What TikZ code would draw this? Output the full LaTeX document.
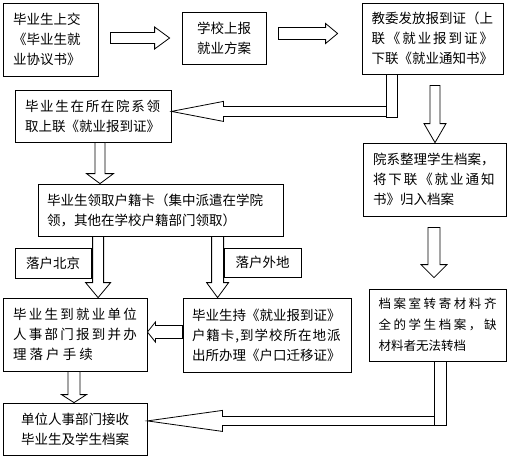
\documentclass[tikz,border=0pt]{standalone}
\usepackage{fontspec}
\newfontfamily\cjk{Noto Sans CJK SC}
\usetikzlibrary{calc}
\def\spr#1#2{\makebox[#1]{\sprA#2\relax}}
\def\sprA#1{\ifx\relax#1\else#1\expandafter\sprB\fi}
\def\sprB#1{\ifx\relax#1\else\hfill#1\expandafter\sprB\fi}
\newcommand\blockarrow[5]{%
  \coordinate (ba-t) at (#1);
  \coordinate (ba-h) at (#2);
  \coordinate (ba-b) at ($(ba-h)!#5!(ba-t)$);
  \draw[barrow] ($(ba-t)!#3!90:(ba-h)$) -- ($(ba-b)!#3!-90:(ba-t)$) -- ($(ba-b)!#4!-90:(ba-t)$) -- (ba-h) -- ($(ba-b)!#4!90:(ba-t)$) -- ($(ba-b)!#3!90:(ba-t)$) -- ($(ba-t)!#3!-90:(ba-h)$) -- cycle;}
\begin{document}
\begin{tikzpicture}[x=1pt,y=-1pt,
  box/.style={draw,line width=0.8pt,inner sep=0pt,font=\cjk\fontsize{13.5}{20}\selectfont},
  lbox/.style={box,align=left,text width=#1},
  cbox/.style={box,align=center},
  barrow/.style={draw,fill=white,line width=0.8pt,line join=miter}]
\useasboundingbox (0,0) rectangle (510,459);

\node[lbox=75pt,minimum width=95pt,minimum height=73pt] (b1) at (50.5,39.5) {毕业生上交\\《毕业生就\\业协议书》};
\node[cbox,minimum width=84pt,minimum height=52pt] (b2) at (224,38) {学校上报\\就业方案};
\node[lbox=122pt,minimum width=141pt,minimum height=71pt] (b3) at (432.5,38.5) {教委发放报到证（上\\\spr{121.5pt}{联《就业报到证》}\\下联《就业通知书》};
\node[lbox=136pt,minimum width=156pt,minimum height=52pt] (b4) at (93,116) {\spr{135pt}{毕业生在所在院系领}\\取上联《就业报到证》};
\node[lbox=227pt,minimum width=245pt,minimum height=52pt] (b5) at (160.5,210) {毕业生领取户籍卡（集中派遣在学院\\领，其他在学校户籍部门领取）};
\node[cbox,minimum width=76pt,minimum height=30pt] (l1) at (53,263) {落户北京};
\node[cbox,minimum width=77pt,minimum height=29pt] (l2) at (262.5,262.5) {落户外地};
\node[lbox=123pt,minimum width=143pt,minimum height=73pt] (b6) at (434.5,179.5) {院系整理学生档案，\\\spr{121.5pt}{将下联《就业通知}\\书》归入档案};
\node[lbox=124pt,minimum width=144pt,minimum height=73pt] (b7) at (75,334.5) {\spr{124pt}{毕业生到就业单位}\\\spr{124pt}{人事部门报到并办}\\\spr{80pt}{理落户手续}};
\node[lbox=150pt,minimum width=168pt,minimum height=74pt] (b8) at (267,335) {毕业生持《就业报到证》\\\spr{148.5pt}{户籍卡,到学校所在地派}\\出所办理《户口迁移证》};
\node[lbox=118pt,minimum width=137pt,minimum height=72pt,font=\cjk\fontsize{12.5}{21}\selectfont] (b9) at (437.5,325) {\spr{118pt}{档案室转寄材料齐}\\\spr{118pt}{全的学生档案，缺}\\材料者无法转档};
\node[cbox,minimum width=144pt,minimum height=52pt] (b10) at (75,429) {单位人事部门接收\\毕业生及学生档案};

% block arrows
\coordinate (a1t) at ($(b1.east |- b2.west)+(12,0)$);
\coordinate (a1h) at ($(b2.west)+(-12,0)$);
\blockarrow{a1t}{a1h}{5.5pt}{11pt}{15pt}

\coordinate (a2t) at ($(b2.east)+(12,-4.5)$);
\coordinate (a2h) at ($(a2t -| b3.west)+(-24,0)$);
\blockarrow{a2t}{a2h}{6pt}{10pt}{12pt}

\coordinate (lat) at ($(b3.south west)+(25,37)$);
\coordinate (lah) at (lat -| b4.east);
\blockarrow{lat}{lah}{5pt}{10pt}{52pt}
\draw[barrow] ($(b3.south west)+(25,0)$) rectangle ($(b3.south west)+(36,43)$);

\coordinate (a3t) at ($(b3.south)+(2.5,11)$);
\coordinate (a3h) at (a3t |- b6.north);
\blockarrow{a3t}{a3h}{5pt}{11pt}{19pt}

\coordinate (a4t) at ($(b4.south)+(7,0)$);
\coordinate (a4h) at (a4t |- b5.north);
\blockarrow{a4t}{a4h}{5pt}{13.5pt}{10pt}

\coordinate (a5t) at ($(b5.south west)+(60.5,0)$);
\coordinate (a5h) at (a5t |- b7.north);
\blockarrow{a5t}{a5h}{5.5pt}{12.5pt}{15pt}

\coordinate (a6t) at ($(b5.south west)+(180,0)$);
\coordinate (a6h) at (a6t |- b8.north);
\blockarrow{a6t}{a6h}{6pt}{11pt}{15pt}

\coordinate (a7t) at ($(b8.west)+(0,-3)$);
\coordinate (a7h) at (a7t -| b7.east);
\blockarrow{a7t}{a7h}{6.5pt}{10pt}{8pt}

\coordinate (a8t) at ($(b6.south)+(-0.5,11)$);
\coordinate (a8h) at ($(a8t |- b9.north)+(0,-11)$);
\blockarrow{a8t}{a8h}{6pt}{13pt}{13pt}

\coordinate (a9t) at ($(b7.south)+(-1,0)$);
\coordinate (a9h) at (a9t |- b10.north);
\blockarrow{a9t}{a9h}{6pt}{12.5pt}{8pt}

\coordinate (lbt) at ($(b9.south west)+(66,59.5)$);
\coordinate (lbh) at (lbt -| b10.east);
\blockarrow{lbt}{lbh}{4.5pt}{10.5pt}{75pt}
\draw[barrow] ($(b9.south west)+(66,0)$) rectangle ($(b9.south west)+(78,64)$);
\end{tikzpicture}
\end{document}
